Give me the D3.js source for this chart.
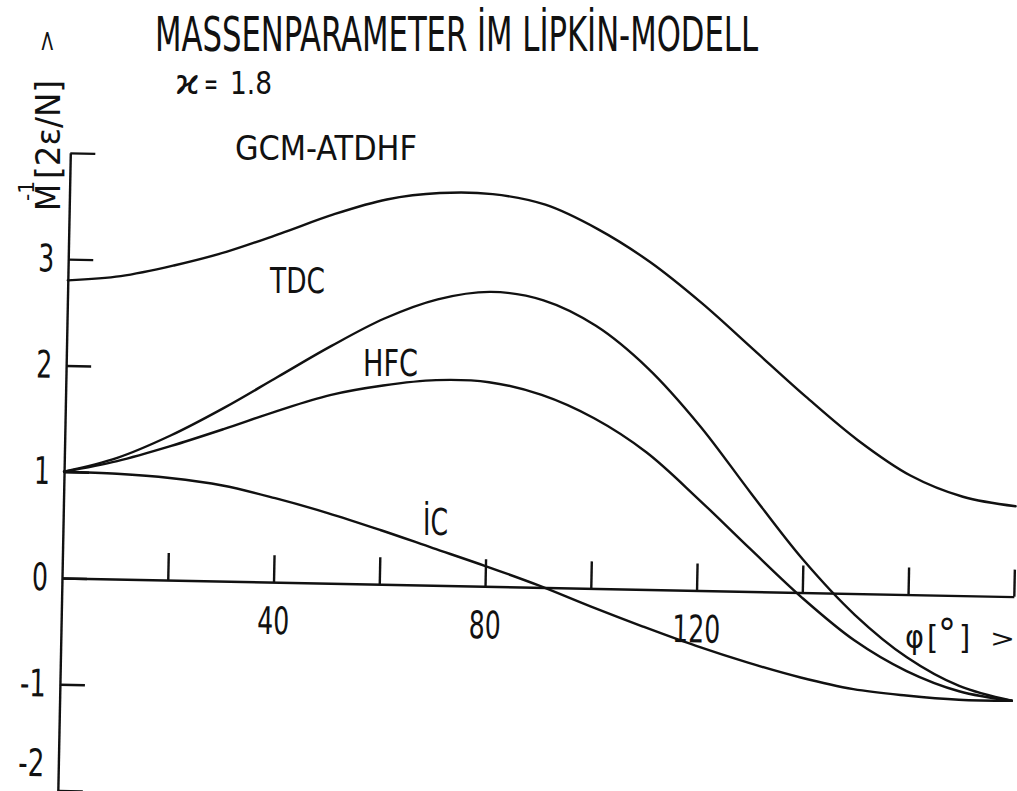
<!DOCTYPE html>
<html>
<head>
<meta charset="utf-8">
<script src="https://cdn.jsdelivr.net/npm/d3@7"></script>
<style>
  html, body { margin: 0; padding: 0; background: #fff; }
  svg { display: block; }
</style>
</head>
<body>
<svg id="chart" width="1017" height="791"></svg>
<script>
// Mass parameter M^-1 (units of 2ε/N) versus the angle φ in degrees
const angles   = [0, 10, 20, 30, 40, 50, 60, 70, 80, 90, 100, 110, 120, 130, 140, 150, 160, 170, 180];
const gcmAtdhf = [2.80, 2.85, 2.96, 3.10, 3.28, 3.47, 3.62, 3.69, 3.69, 3.60, 3.38, 3.08, 2.70, 2.27, 1.84, 1.44, 1.12, 0.93, 0.85];
const tdc      = [1.00, 1.14, 1.36, 1.63, 1.93, 2.23, 2.50, 2.69, 2.77, 2.70, 2.47, 2.08, 1.55, 0.92, 0.31, -0.20, -0.59, -0.85, -0.98];
const hfc      = [1.00, 1.11, 1.26, 1.43, 1.61, 1.77, 1.87, 1.93, 1.92, 1.81, 1.60, 1.29, 0.86, 0.40, -0.05, -0.44, -0.72, -0.90, -0.98];
const ic       = [1.00, 0.99, 0.96, 0.90, 0.79, 0.66, 0.51, 0.35, 0.19, 0.02, -0.17, -0.35, -0.52, -0.67, -0.80, -0.90, -0.95, -0.98, -0.98];

const curveNames = ["GCM-ATDHF", "TDC", "HFC", "İC"];

const xTickValues = [20, 40, 60, 80, 100, 120, 140, 160, 180];
const xLabelled   = [40, 80, 120];
const yTickValues = [-2, -1, 0, 1, 2, 3, 4];
const yTickLabels = ["-2", "-1", "0", "1", "2", "3", ""];

const titleText = "MASSENPARAMETER İM LİPKİN-MODELL";
const paramParts = ["ϰ", "=", "1.8"];

const FONT = "'DejaVu Sans Condensed', 'DejaVu Sans', sans-serif";
const INK = "#111";

const svg = d3.select("#chart");

// The sheet is drawn slightly turned; the plot frame is rotated about the origin.
const x = d3.scaleLinear().domain([0, 180]).range([62, 1014]);
const y = d3.scaleLinear().domain([-2, 4]).range([578 + 2 * 106.3, 578 - 4 * 106.3]);
const tilt = 1.12;

const plot = svg.append("g")
  .attr("transform", `rotate(${tilt},${x(0)},${y(0)})`);

// narrow stencil digits: fixed advance per character
const digitWidth = s => s.replace("-", "").length * 16 + (s.includes("-") ? 10 : 0);

// horizontal axis at M^-1 = 0, ticks pointing up
const xAxis = d3.axisBottom(x)
  .tickValues(xTickValues)
  .tickSize(-27)
  .tickSizeOuter(0)
  .tickPadding(25)
  .tickFormat(d => xLabelled.includes(d) ? String(d) : "");

const gx = plot.append("g")
  .attr("transform", `translate(0,${y(0)})`)
  .call(xAxis);

// vertical axis, ticks pointing into the plot
const yAxis = d3.axisLeft(y)
  .tickValues(yTickValues)
  .tickSize(-25)
  .tickSizeOuter(0)
  .tickPadding(14)
  .tickFormat((d, i) => yTickLabels[i]);

const gy = plot.append("g")
  .attr("transform", `translate(${x(0)},0)`)
  .call(yAxis);

[gx, gy].forEach(g => {
  g.attr("font-family", FONT).attr("font-size", 38);
  g.selectAll(".domain").attr("stroke", INK).attr("stroke-width", 2.4);
  g.selectAll(".tick line").attr("stroke", INK).attr("stroke-width", 2.4);
  g.selectAll(".tick text")
    .attr("fill", INK)
    .each(function () {
      const s = d3.select(this).text();
      if (s) d3.select(this).attr("textLength", digitWidth(s)).attr("lengthAdjust", "spacingAndGlyphs");
    });
});
// lowest label sits above its tick, at the bottom edge of the sheet
gy.selectAll(".tick").filter(d => d === -2).select("text").attr("dy", "-0.38em");

// curves
const line = d3.line()
  .x((d, i) => x(angles[i]))
  .y(d => y(d))
  .curve(d3.curveCatmullRom.alpha(0.5));

[gcmAtdhf, tdc, hfc, ic].forEach(series => {
  plot.append("path")
    .datum(series)
    .attr("d", line)
    .attr("fill", "none")
    .attr("stroke", INK)
    .attr("stroke-width", 2.4)
    .attr("stroke-linejoin", "round")
    .attr("stroke-linecap", "round");
});

// lettering
const txt = svg.append("g").attr("font-family", FONT).attr("fill", INK);

txt.append("text")
  .attr("x", 155).attr("y", 51)
  .attr("font-size", 48)
  .attr("textLength", 603).attr("lengthAdjust", "spacingAndGlyphs")
  .text(titleText);

// coupling strength  ϰ = 1.8
const paramSpots = [
  { x: 175, size: 34, len: 25 },
  { x: 204, size: 30, len: 14 },
  { x: 230, size: 32, len: 42 }
];
paramParts.forEach((s, i) => {
  const p = paramSpots[i];
  txt.append("text")
    .attr("x", p.x).attr("y", 94)
    .attr("font-size", p.size)
    .attr("textLength", p.len).attr("lengthAdjust", "spacingAndGlyphs")
    .text(s);
});

const labelSpots = [
  { x: 235, y: 160, size: 34, len: 182 },
  { x: 270, y: 293, size: 36, len: 55 },
  { x: 363, y: 376, size: 38, len: 55 },
  { x: 423, y: 535, size: 37, len: 25 }
];
curveNames.forEach((name, i) => {
  const s = labelSpots[i];
  txt.append("text")
    .attr("x", s.x).attr("y", s.y)
    .attr("font-size", s.size)
    .attr("textLength", s.len).attr("lengthAdjust", "spacingAndGlyphs")
    .text(name);
});

// horizontal axis title  φ[°] >
const xt = txt.append("text").attr("y", 648).attr("font-size", 32);
xt.append("tspan").attr("x", 905).text("φ");
xt.append("tspan").attr("x", 927).text("[");
xt.append("tspan").attr("x", 938).attr("font-size", 40).text("°");
xt.append("tspan").attr("x", 959).text("]");
txt.append("text")
  .attr("x", 990).attr("y", 647)
  .attr("font-size", 24)
  .attr("textLength", 25).attr("lengthAdjust", "spacingAndGlyphs")
  .text(">");

// vertical axis title  M^-1 [2ε/N] >
txt.append("text")
  .attr("transform", "translate(60,211) rotate(-90)")
  .attr("font-size", 34)
  .attr("textLength", 27).attr("lengthAdjust", "spacingAndGlyphs")
  .text("M");
txt.append("text")
  .attr("transform", "translate(34,201) rotate(-90)")
  .attr("font-size", 22)
  .attr("textLength", 20).attr("lengthAdjust", "spacingAndGlyphs")
  .text("-1");
txt.append("text")
  .attr("transform", "translate(60,179) rotate(-90)")
  .attr("font-size", 34)
  .attr("textLength", 99).attr("lengthAdjust", "spacingAndGlyphs")
  .text("[2ε/N]");
txt.append("text")
  .attr("transform", "translate(54,53) rotate(-90)")
  .attr("font-size", 22)
  .attr("textLength", 24).attr("lengthAdjust", "spacingAndGlyphs")
  .text(">");
</script>
</body>
</html>
